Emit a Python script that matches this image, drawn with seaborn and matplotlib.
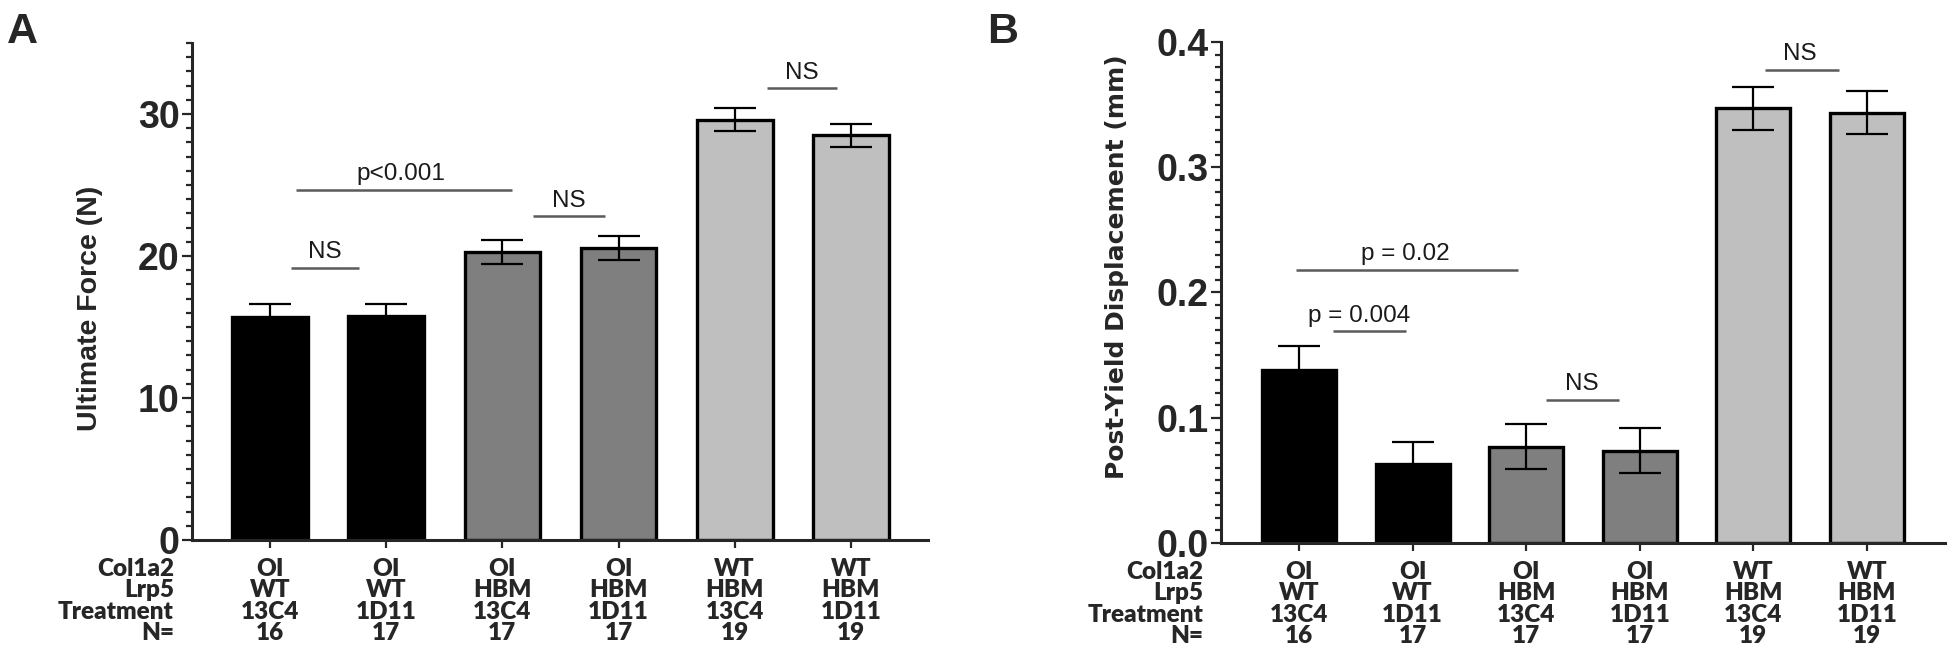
import numpy as np
import seaborn as sns
import matplotlib.pyplot as plt
from matplotlib.ticker import MultipleLocator

# --- DATA ---
col1a2 = ["OI", "OI", "OI", "OI", "WT", "WT"]
lrp5 = ["WT", "WT", "HBM", "HBM", "HBM", "HBM"]
treatment = ["13C4", "1D11", "13C4", "1D11", "13C4", "1D11"]
n_mice = [16, 17, 17, 17, 19, 19]

force_mean = [15.7, 15.8, 20.3, 20.55, 29.6, 28.5]
force_sem = [0.9, 0.85, 0.85, 0.85, 0.8, 0.8]
disp_mean = [0.138, 0.063, 0.077, 0.0735, 0.347, 0.3435]
disp_sem = [0.019, 0.018, 0.018, 0.018, 0.017, 0.017]

bar_colors = ["#000000", "#000000", "#7f7f7f", "#7f7f7f", "#bfbfbf", "#bfbfbf"]

# significance bars: (x start, x end, height, text, text x)
sig_force = [(0.18, 0.77, 19.15, "NS", 0.47),
             (0.22, 2.08, 24.67, "p<0.001", 1.13),
             (2.26, 2.88, 22.8, "NS", 2.57),
             (4.28, 4.88, 31.8, "NS", 4.58)]
sig_disp = [(-0.03, 1.93, 0.218, "p = 0.02", 0.94),
            (0.30, 0.94, 0.169, "p = 0.004", 0.53),
            (2.17, 2.82, 0.1144, "NS", 2.49),
            (4.10, 4.75, 0.378, "NS", 4.41)]

# --- STYLE ---
sns.set_style("ticks")
ARIAL = ["Liberation Sans", "DejaVu Sans"]
LABEL_FONT = ["Lato", "DejaVu Sans"]

xlabels = [f"{a}\n{b}\n{c}\n{d}" for a, b, c, d in zip(col1a2, lrp5, treatment, n_mice)]
row_names = "Col1a2\nLrp5\nTreatment\nN="

fig = plt.figure(figsize=(19.5, 6.57), dpi=100)
W, H = 1950, 657
axA = fig.add_axes([192 / W, 1 - 540 / H, (928 - 192) / W, (540 - 43) / H])
axB = fig.add_axes([1221 / W, 1 - 543 / H, (1945 - 1221) / W, (543 - 42) / H])


def draw_panel(ax, means, sems, sigs, ymax, major, minor, fmt, xlim):
    sns.barplot(x=xlabels, y=means, hue=xlabels, palette=bar_colors, legend=False,
                width=0.65, edgecolor="black", linewidth=2.4, saturation=1, ax=ax)
    ax.errorbar(range(len(means)), means, yerr=sems, fmt="none", ecolor="black",
                elinewidth=1.6, capsize=15, capthick=1.6, zorder=5)
    ax.set_xlim(*xlim)
    ax.set_ylim(0, ymax)
    ax.yaxis.set_major_locator(MultipleLocator(major))
    ax.yaxis.set_minor_locator(MultipleLocator(minor))
    ax.yaxis.set_major_formatter(fmt)
    for s in ["top", "right"]:
        ax.spines[s].set_visible(False)
    for s in ["left", "bottom"]:
        ax.spines[s].set_linewidth(2.2)
    ax.tick_params(axis="y", which="major", length=7, width=1.6, pad=2)
    ax.tick_params(axis="y", which="minor", length=4.5, width=1.6)
    ax.tick_params(axis="x", length=6, width=1.6, pad=7)
    for t in ax.get_yticklabels():
        t.set_fontfamily(ARIAL)
        t.set_fontweight("bold")
        t.set_fontsize(27)
    ax.set_xticks(range(len(xlabels)))
    ax.set_xticklabels(xlabels, fontfamily=LABEL_FONT, fontweight="heavy",
                       fontsize=17.5, linespacing=0.96)
    ax.annotate(row_names, xy=(0, 0), xycoords="axes fraction", xytext=(-18, -18),
                textcoords="offset pixels", ha="right", va="top", multialignment="right",
                fontfamily=LABEL_FONT, fontweight="heavy", fontsize=17.5, linespacing=0.96)
    ax.set_xlabel("")
    ax.set_ylabel("")
    for x0, x1, h, txt, tx in sigs:
        ax.plot([x0, x1], [h, h], color="#5a5a5a", lw=1.8, solid_capstyle="butt")
        ax.annotate(txt, xy=(tx, h), xytext=(0, 7), textcoords="offset points",
                    ha="center", va="baseline", fontfamily=ARIAL, fontsize=17.5,
                    color="#1a1a1a")


draw_panel(axA, force_mean, force_sem, sig_force, 35, 10, 1, "{x:.0f}", (-0.671, 5.663))
draw_panel(axB, disp_mean, disp_sem, sig_disp, 0.4, 0.1, 0.01, "{x:.1f}", (-0.687, 5.687))

axA.text(-0.138, 0.467, "Ultimate Force (N)", transform=axA.transAxes, rotation=90,
         ha="center", va="center", fontfamily=ARIAL, fontweight="bold", fontsize=20.5)
axB.text(-0.143, 0.552, "Post-Yield Displacement (mm)", transform=axB.transAxes,
         rotation=90, ha="center", va="center", fontfamily=["DejaVu Sans"],
         fontweight="bold", fontsize=18)

fig.text(7 / W, 1 - 12 / H, "A", ha="left", va="top", fontsize=31,
         fontweight="bold", fontfamily=ARIAL)
fig.text(987 / W, 1 - 12 / H, "B", ha="left", va="top", fontsize=31,
         fontweight="bold", fontfamily=ARIAL)

fig.savefig("out.png", dpi=100)
